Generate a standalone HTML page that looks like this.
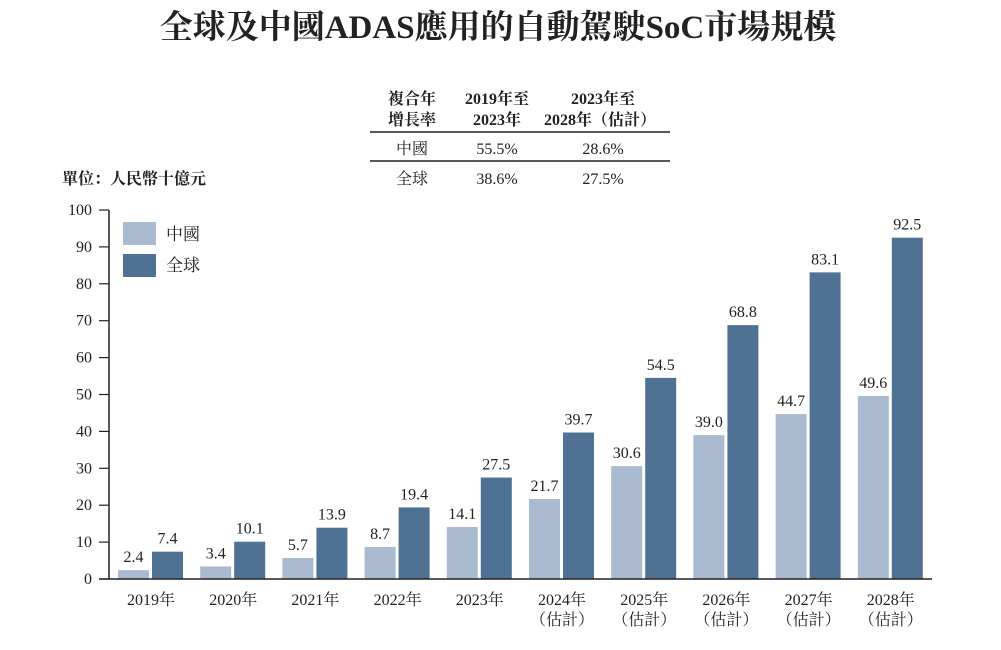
<!DOCTYPE html>
<html><head><meta charset="utf-8"><style>
body{margin:0;background:#fff;}
svg text{font-family:"Liberation Serif","Noto Serif CJK SC","Noto Sans CJK TC",serif;fill:#222;}
</style></head><body>
<svg width="1001" height="645" viewBox="0 0 1001 645">
<text x="498" y="38" text-anchor="middle" font-size="33" font-weight="bold">全球及中國ADAS應用的自動駕駛SoC市場規模</text>
<g font-size="16">
<text x="412" y="104" text-anchor="middle" font-weight="bold">複合年</text>
<text x="412" y="125" text-anchor="middle" font-weight="bold">增長率</text>
<text x="497" y="104" text-anchor="middle" font-weight="bold">2019年至</text>
<text x="497" y="125" text-anchor="middle" font-weight="bold">2023年</text>
<text x="603" y="104" text-anchor="middle" font-weight="bold">2023年至</text>
<text x="600" y="125" text-anchor="middle" font-weight="bold">2028年（估計）</text>
<line x1="370" y1="132" x2="670" y2="132" stroke="#222" stroke-width="1.5"/>
<text x="412" y="154" text-anchor="middle">中國</text>
<text x="497" y="154" text-anchor="middle">55.5%</text>
<text x="603" y="154" text-anchor="middle">28.6%</text>
<line x1="370" y1="161" x2="670" y2="161" stroke="#222" stroke-width="1.5"/>
<text x="412" y="184" text-anchor="middle">全球</text>
<text x="497" y="184" text-anchor="middle">38.6%</text>
<text x="603" y="184" text-anchor="middle">27.5%</text>
</g>
<text x="62" y="184" font-size="16" font-weight="bold">單位：人民幣十億元</text>
<g id="plot"></g>
<g>
<rect x="123" y="222" width="33" height="23" fill="#aabad0"/>
<text x="166" y="240" font-size="17">中國</text>
<rect x="123" y="254" width="33" height="23" fill="#4f7294"/>
<text x="166" y="271" font-size="17">全球</text>
</g>
</svg>
<script>
const categories=["2019年","2020年","2021年","2022年","2023年","2024年","2025年","2026年","2027年","2028年"];
const subLabels=["","","","","","（估計）","（估計）","（估計）","（估計）","（估計）"];
const china=[2.4,3.4,5.7,8.7,14.1,21.7,30.6,39.0,44.7,49.6];
const globalV=[7.4,10.1,13.9,19.4,27.5,39.7,54.5,68.8,83.1,92.5];
const yTicks=[0,10,20,30,40,50,60,70,80,90,100];
const NS="http://www.w3.org/2000/svg";
const g=document.getElementById('plot');
const y0=579,yTop=210,yMax=100;
function y(v){return y0-(y0-yTop)*v/yMax;}
function gx(i){return 118+i*82.2;}
function mk(tag,attrs,txt){const e=document.createElementNS(NS,tag);for(const k in attrs)e.setAttribute(k,attrs[k]);if(txt!=null)e.textContent=txt;g.appendChild(e);return e;}
let e=mk('line',{x1:109,y1:y0,x2:109,y2:yTop,stroke:'#222','stroke-width':1.5});


yTicks.forEach(t=>{
 let l=mk('line',{x1:99,x2:109,y1:y(t),y2:y(t),stroke:'#222','stroke-width':1.2});
 
 
 let tx=mk('text',{x:92,y:y(t)+5,'text-anchor':'end','font-size':16},String(t));
 
 
});
categories.forEach((c,i)=>{
 const x=gx(i);
 let b1=mk('rect',{x:x,y:y(china[i]),width:31,height:y0-y(china[i]),fill:'#aabad0'});
 
 
 let b2=mk('rect',{x:x+34,y:y(globalV[i]),width:31,height:y0-y(globalV[i]),fill:'#4f7294'});
 
 
 let v1=mk('text',{x:x+15.5,y:y(china[i])-8,'text-anchor':'middle','font-size':16},china[i].toFixed(1));
 
 
 let v2=mk('text',{x:x+49.5,y:y(globalV[i])-8,'text-anchor':'middle','font-size':16},globalV[i].toFixed(1));
 
 
 let cl=mk('text',{x:x+33,y:605,'text-anchor':'middle','font-size':16},c);
 
 
 if(subLabels[i]){let s=mk('text',{x:x+33,y:625,'text-anchor':'middle','font-size':16},subLabels[i]);
 
 }
});
e=mk('line',{x1:99,y1:y0,x2:932,y2:y0,stroke:'#222','stroke-width':1.5});


</script>
</body></html>
